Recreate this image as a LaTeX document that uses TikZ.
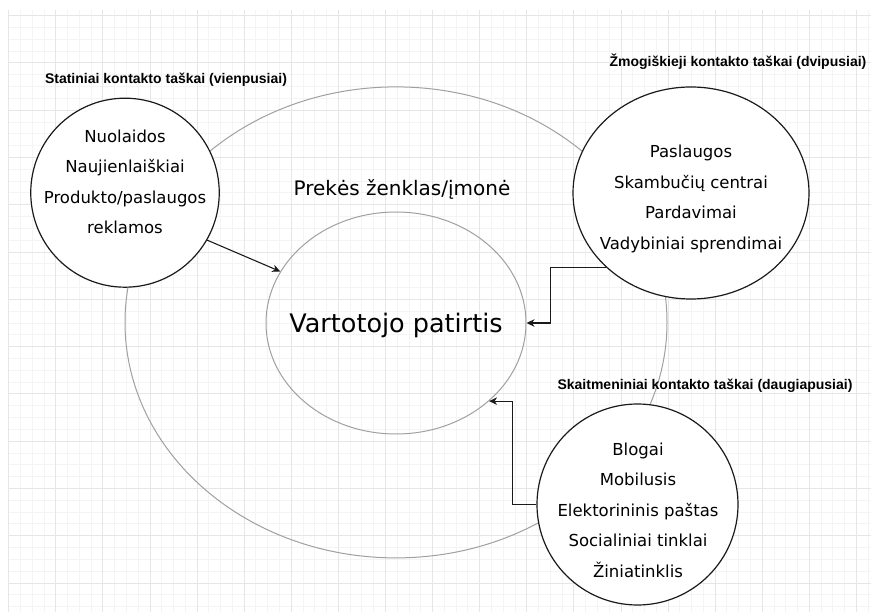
\documentclass[tikz,border=0pt]{standalone}
\usepackage{fontspec}
\setmainfont{DejaVu Sans}
\newfontfamily\headfont{Liberation Sans}
\usetikzlibrary{shapes.geometric,arrows.meta}

\definecolor{gridminor}{HTML}{F4F4F4}
\definecolor{gridmajor}{HTML}{E6E6E6}
\definecolor{ringgray}{HTML}{A0A0A0}
\definecolor{inkline}{HTML}{1A1A1A}

\begin{document}
\begin{tikzpicture}[
    x=1pt, y=-1pt,
    every node/.style={inner sep=0pt},
    ring/.style={ellipse, draw=ringgray, line width=1pt},
    touch/.style={ellipse, draw=inkline, fill=white, line width=1.2pt},
    items/.style={align=center, font=\fontsize{16.5}{30.5}\selectfont},
    heading/.style={font=\headfont\bfseries\fontsize{14}{16}\selectfont},
    link/.style={draw=inkline, line width=1.1pt, -{Stealth[length=8pt,width=7.5pt,inset=2.5pt]}},
]
  \useasboundingbox[fill=white] (0,0) rectangle (871,612);
  % grid
  \foreach \i in {0,...,73}  \draw[gridminor, line width=0.8pt] ({8.6+11.775*\i},10) -- ++(0,602);
  \foreach \j in {0,...,50}  \draw[gridminor, line width=0.8pt] (8,{15.6+11.82*\j}) -- ++(863,0);
  \foreach \i in {0,...,18}  \draw[gridmajor, line width=0.8pt] ({8.6+47.1*\i},10) -- ++(0,602);
  \foreach \j in {0,...,12}  \draw[gridmajor, line width=0.8pt] (8,{15.6+47.28*\j}) -- ++(863,0);

  \node [ring, minimum width=542, minimum height=471]      (brand)   at (396,322.4)  {};
  \node [ring, minimum width=260, minimum height=222]      (exp)     at (396,323)    {};
  \node [touch, minimum width=188.5, minimum height=189]   (static)  at (125,192.7)  {};
  \node [touch, minimum width=236, minimum height=212]     (human)   at (691,193)    {};
  \node [touch, minimum width=201, minimum height=201]     (digital) at (637.5,504.5) {};

  \node [items] (staticlist)  at (125,182)   {Nuolaidos\\Naujienlaiškiai\\Produkto/paslaugos\\reklamos};
  \node [items] (humanlist)   at (691,199)   {Paslaugos\\Skambučių centrai\\Pardavimai\\Vadybiniai sprendimai};
  \node [items] (digitallist) at (638,510)   {Blogai\\Mobilusis\\Elektorininis paštas\\Socialiniai tinklai\\Žiniatinklis};

  \node [heading] (statichead)  at (166,80)    {Statiniai kontakto taškai (vienpusiai)};
  \node [heading] (humanhead)   at (738,61.7)  {Žmogiškieji kontakto taškai (dvipusiai)};
  \node [heading] (digitalhead) at (705,385.7) {Skaitmeniniai kontakto taškai (daugiapusiai)};

  \node [font=\fontsize{20}{24}\selectfont]   (brandname) at (402,189) {Prekės ženklas/įmonė};
  \node [font=\fontsize{25.5}{30}\selectfont] (expname)   at (396,325) {Vartotojo patirtis};

  \draw [link] (static.-30)   -- (exp.156);
  \draw [link] (human.221)    -- ++(-55,0) |- (exp.east);
  \draw [link] (digital.west) -- ++(-24,0) |- (exp.-40);
\end{tikzpicture}
\end{document}
